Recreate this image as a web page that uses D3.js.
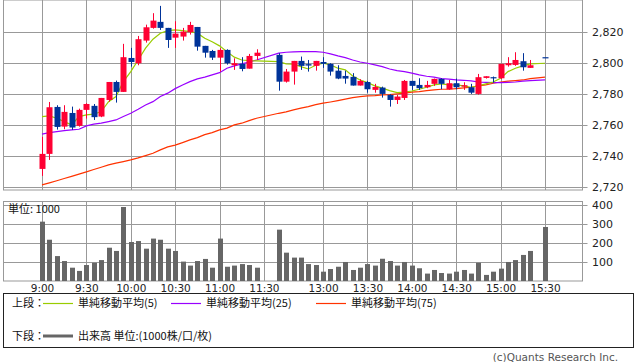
<!DOCTYPE html>
<html>
<head>
<meta charset="utf-8">
<script src="https://cdn.jsdelivr.net/npm/d3@7"></script>
<style>
  body { margin: 0; background: #fff; }
  svg { display: block; font-family: "DejaVu Sans", sans-serif; }
  .jp { font-family: "Noto Sans CJK JP", sans-serif; }
</style>
</head>
<body>
<div id="chart"></div>
<script>
// 5-minute slots (0 = 9:00, 32 = 12:30, 68 = 15:30 close)
var slots = [0,1,2,3,4,5,6,7,8,9,10,11,12,13,14,15,16,17,18,19,20,21,22,23,24,25,26,27,28,29,
  32,33,34,35,36,37,38,39,40,41,42,43,44,45,46,47,48,49,50,51,52,53,54,55,56,57,58,59,60,61,62,63,64,65,66,68];

var open = [2731.6,2741.3,2771.6,2758.9,2767.7,2759.4,2769.7,2772.3,2765.4,2776.1,2787.7,2781.3,2803.2,2799.8,2814.4,2822.6,2826.5,2822.6,2816.3,2817.0,2819.8,2823.2,2811.0,2807.7,2803.4,2808.4,2798.5,2799.4,2796.3,2804.5,
  2805.2,2787.9,2794.4,2801.3,2799.2,2798.1,2800.6,2799.4,2795.0,2791.6,2791.0,2785.4,2787.7,2782.6,2784.1,2779.4,2776.1,2777.4,2788.4,2785.8,2784.3,2786.5,2789.7,2783.0,2786.9,2784.7,2784.3,2780.0,2790.3,2790.8,2790.1,2798.5,2798.7,2801.1,2796.8,2803.7];
var high = [2752.3,2774.8,2772.7,2772.7,2771.8,2770.5,2774.0,2773.5,2777.4,2787.7,2788.6,2812.3,2809.7,2817.4,2824.7,2832.1,2836.8,2822.6,2826.9,2822.6,2826.5,2823.2,2811.0,2808.4,2809.5,2808.8,2803.0,2803.7,2805.8,2808.8,
  2806.3,2796.1,2801.3,2804.1,2801.9,2801.3,2803.7,2799.8,2798.5,2795.0,2793.4,2789.5,2788.4,2786.5,2784.7,2779.8,2779.4,2789.0,2788.4,2790.1,2788.4,2789.9,2790.1,2789.0,2789.9,2787.5,2786.5,2792.9,2791.4,2791.2,2799.4,2803.7,2806.9,2806.3,2801.9,2803.7];
var low = [2727.1,2737.4,2757.0,2757.2,2756.8,2758.9,2764.1,2763.2,2765.0,2775.0,2774.4,2781.3,2797.6,2798.5,2813.1,2822.1,2821.3,2809.7,2809.7,2814.4,2818.3,2807.9,2803.4,2801.9,2794.4,2798.9,2795.5,2794.6,2796.3,2801.9,
  2782.1,2787.3,2786.0,2795.5,2794.4,2795.0,2796.8,2791.8,2789.5,2786.6,2785.4,2785.4,2780.8,2780.8,2777.6,2771.8,2773.5,2776.1,2782.6,2782.6,2783.7,2785.2,2783.0,2782.6,2783.0,2782.6,2780.0,2779.5,2789.9,2787.3,2789.5,2797.6,2798.1,2795.0,2796.8,2803.7];
var close = [2741.3,2771.4,2758.7,2768.4,2758.3,2769.7,2773.5,2765.0,2777.4,2787.7,2781.3,2803.7,2800.6,2815.3,2823.0,2827.3,2822.6,2814.8,2818.9,2820.2,2824.5,2810.5,2806.6,2803.4,2808.4,2799.8,2799.8,2796.1,2804.5,2806.6,
  2787.9,2794.4,2801.3,2798.1,2798.3,2801.3,2799.4,2794.4,2789.9,2789.9,2785.4,2788.4,2783.0,2784.5,2780.0,2776.1,2778.3,2788.4,2785.2,2783.7,2785.8,2789.7,2786.5,2786.9,2784.3,2785.6,2780.8,2790.8,2791.4,2790.3,2799.4,2799.8,2801.9,2797.2,2798.5,2803.7];

var ma5 = [2765.4,2765.8,2764.3,2762.1,2760.0,2765.4,2766.5,2766.9,2768.6,2775.0,2778.3,2787.9,2794.4,2801.9,2809.5,2815.3,2819.2,2820.8,2821.3,2820.8,2820.2,2819.2,2815.9,2813.7,2811.0,2807.3,2803.7,2801.9,2801.5,2801.3,
  2800.8,2799.4,2799.2,2797.6,2796.1,2798.5,2799.8,2798.7,2796.6,2795.5,2791.6,2789.0,2787.3,2785.2,2783.7,2782.1,2780.8,2781.1,2781.9,2783.0,2784.3,2785.8,2786.5,2785.8,2785.8,2785.2,2784.3,2785.2,2786.5,2787.7,2790.1,2794.4,2796.6,2798.1,2799.4,2799.8];
var ma25 = [2754.0,2755.0,2755.7,2756.3,2756.8,2757.2,2759.4,2760.5,2761.1,2762.1,2763.2,2765.4,2767.5,2770.1,2772.9,2775.0,2778.3,2780.5,2783.4,2785.8,2787.9,2789.7,2790.8,2792.3,2793.7,2796.6,2798.1,2799.4,2800.6,2801.9,
  2806.3,2806.9,2807.1,2807.3,2807.3,2807.3,2806.9,2805.8,2804.5,2803.4,2801.9,2800.6,2799.8,2798.7,2797.6,2796.1,2795.0,2794.4,2793.4,2792.3,2791.4,2790.8,2789.9,2789.5,2789.0,2788.8,2788.4,2787.7,2787.5,2787.3,2787.3,2787.5,2787.7,2788.2,2788.6,2789.0];
var ma75 = [2721.3,2722.6,2724.0,2725.4,2726.8,2728.2,2729.7,2731.2,2732.7,2734.2,2735.3,2736.3,2737.4,2738.7,2740.2,2741.7,2743.9,2745.8,2747.0,2748.6,2750.3,2751.8,2753.7,2755.0,2756.8,2757.9,2760.0,2761.1,2762.8,2764.3,
  2767.5,2768.4,2769.7,2770.8,2771.8,2773.1,2774.0,2774.8,2775.7,2776.6,2777.6,2778.3,2778.7,2778.9,2779.4,2779.5,2780.0,2780.5,2781.1,2781.5,2782.1,2782.6,2783.0,2783.0,2783.4,2783.9,2784.3,2785.2,2785.8,2786.9,2787.7,2788.2,2788.6,2789.0,2789.9,2790.8];

var volume = [312,217,131,105,70,53,84,96,110,175,158,389,205,210,170,223,217,170,158,102,81,105,116,70,223,75,81,89,84,70,
  270,149,123,123,89,84,49,63,75,100,58,70,89,81,117,105,81,100,81,67,39,58,42,39,49,58,39,96,32,49,65,100,110,137,158,284];

var timeSlots = [0,6,12,18,24,30,38,44,50,56,62,68];
var timeLabels = ["9:00","9:30","10:00","10:30","11:00","11:30","13:00","13:30","14:00","14:30","15:00","15:30"];
var priceTicks = [2720,2740,2760,2780,2800,2820];
var volTicks = [100,200,300,400];

var data = slots.map(function(s, i) {
  return { s: s, o: open[i], h: high[i], l: low[i], c: close[i],
           m5: ma5[i], m25: ma25[i], m75: ma75[i], v: volume[i] };
});

var W = 638, H = 362;
var left = 3.5, right = 582.5;
var main = { top: 0, bottom: 190 };
var vol = { top: 201.5, bottom: 281 };
var gridColor = "#999";

var svg = d3.select("#chart").append("svg")
  .attr("width", W).attr("height", H);

var x = d3.scaleLinear().domain([0, 68]).range([42, 545]);
var y = d3.scaleLinear().domain([2718, 2840.6]).range([main.bottom, main.top]);
var yv = d3.scaleLinear().domain([0, 418]).range([vol.bottom, vol.top]);

function px(v) { return Math.round(v) + 0.5; }

// panel grids
function drawGrid(yScale, ticks, panel) {
  var g = svg.append("g");
  g.selectAll(".h").data(ticks).enter().append("line")
    .attr("x1", left).attr("x2", right + 5)
    .attr("y1", function(d) { return px(yScale(d)); })
    .attr("y2", function(d) { return px(yScale(d)); })
    .attr("stroke", gridColor);
  g.selectAll(".v").data(timeSlots).enter().append("line")
    .attr("x1", function(d) { return px(x(d)); })
    .attr("x2", function(d) { return px(x(d)); })
    .attr("y1", panel.top).attr("y2", panel.bottom)
    .attr("stroke", gridColor);
  g.append("rect")
    .attr("x", left).attr("y", panel.top)
    .attr("width", right - left).attr("height", panel.bottom - panel.top)
    .attr("fill", "none").attr("stroke", gridColor);
  g.selectAll(".t").data(ticks).enter().append("text")
    .attr("x", 592)
    .attr("y", function(d) { return yScale(d) + 4; })
    .attr("font-size", 11)
    .attr("fill", "#222")
    .text(function(d) { return d3.format(",")(d); });
}
drawGrid(y, priceTicks, main);
drawGrid(yv, volTicks, vol);

// moving averages
var maColors = { m5: "#99cc00", m25: "#9900ff", m75: "#ff3300" };
["m75", "m25", "m5"].forEach(function(k) {
  svg.append("path")
    .datum(data)
    .attr("fill", "none")
    .attr("stroke", maColors[k])
    .attr("stroke-width", 1.2)
    .attr("d", d3.line()
      .x(function(d) { return x(d.s); })
      .y(function(d) { return y(d[k]); }));
});

// candles
var up = "#ff0033", down = "#003399";
var candle = svg.append("g").selectAll("g").data(data).enter().append("g");
candle.append("line")
  .attr("x1", function(d) { return px(x(d.s)); })
  .attr("x2", function(d) { return px(x(d.s)); })
  .attr("y1", function(d) { return y(d.h); })
  .attr("y2", function(d) { return y(d.l); })
  .attr("stroke", function(d) { return d.c > d.o ? up : down; });
candle.append("rect")
  .attr("x", function(d) { return Math.round(x(d.s)) - 2.5; })
  .attr("width", 6)
  .attr("y", function(d) { return y(Math.max(d.o, d.c)); })
  .attr("height", function(d) { return Math.max(1.2, Math.abs(y(d.o) - y(d.c))); })
  .attr("fill", function(d) { return d.c > d.o ? up : down; });

// volume bars
svg.append("g").selectAll("rect").data(data).enter().append("rect")
  .attr("x", function(d) { return Math.round(x(d.s)) - 2; })
  .attr("width", 5)
  .attr("y", function(d) { return yv(d.v); })
  .attr("height", function(d) { return vol.bottom - yv(d.v); })
  .attr("fill", "#666");

svg.append("text").attr("class", "jp")
  .attr("x", 8).attr("y", 213)
  .attr("font-size", 11).attr("fill", "#111")
  .text("単位: 1000");

// time labels
var xAxis = d3.axisBottom(x)
  .tickValues(timeSlots)
  .tickSize(0)
  .tickFormat(function(d, i) { return timeLabels[i]; });
var xg = svg.append("g")
  .attr("transform", "translate(0," + (vol.bottom + 1) + ")")
  .call(xAxis);
xg.select(".domain").remove();
xg.selectAll("text")
  .attr("font-family", "DejaVu Sans")
  .attr("font-size", 10.5)
  .attr("fill", "#222");

// legend
svg.append("rect")
  .attr("x", left).attr("y", 293.5)
  .attr("width", 630).attr("height", 54)
  .attr("fill", "none").attr("stroke", "#222");

var legendItems = [
  { x: 43, color: maColors.m5, label: "単純移動平均(5)" },
  { x: 171, color: maColors.m25, label: "単純移動平均(25)" },
  { x: 316, color: maColors.m75, label: "単純移動平均(75)" }
];
var lg = svg.append("g").attr("class", "jp").attr("font-size", 11).attr("fill", "#111");
lg.append("text").attr("x", 12).attr("y", 307).text("上段：");
legendItems.forEach(function(d) {
  lg.append("line")
    .attr("x1", d.x).attr("x2", d.x + 30)
    .attr("y1", 303.5).attr("y2", 303.5)
    .attr("stroke", d.color).attr("stroke-width", 1.2);
  lg.append("text").attr("x", d.x + 35).attr("y", 307).text(d.label);
});
lg.append("text").attr("x", 12).attr("y", 340).text("下段：");
lg.append("line")
  .attr("x1", 43).attr("x2", 73)
  .attr("y1", 336).attr("y2", 336)
  .attr("stroke", "#666").attr("stroke-width", 3);
lg.append("text").attr("x", 78).attr("y", 340).text("出来高 単位:(1000株/口/枚)");

svg.append("text")
  .attr("x", 618).attr("y", 361)
  .attr("text-anchor", "end")
  .attr("font-size", 10.5).attr("fill", "#555")
  .text("(c)Quants Research Inc.");
</script>
</body>
</html>
